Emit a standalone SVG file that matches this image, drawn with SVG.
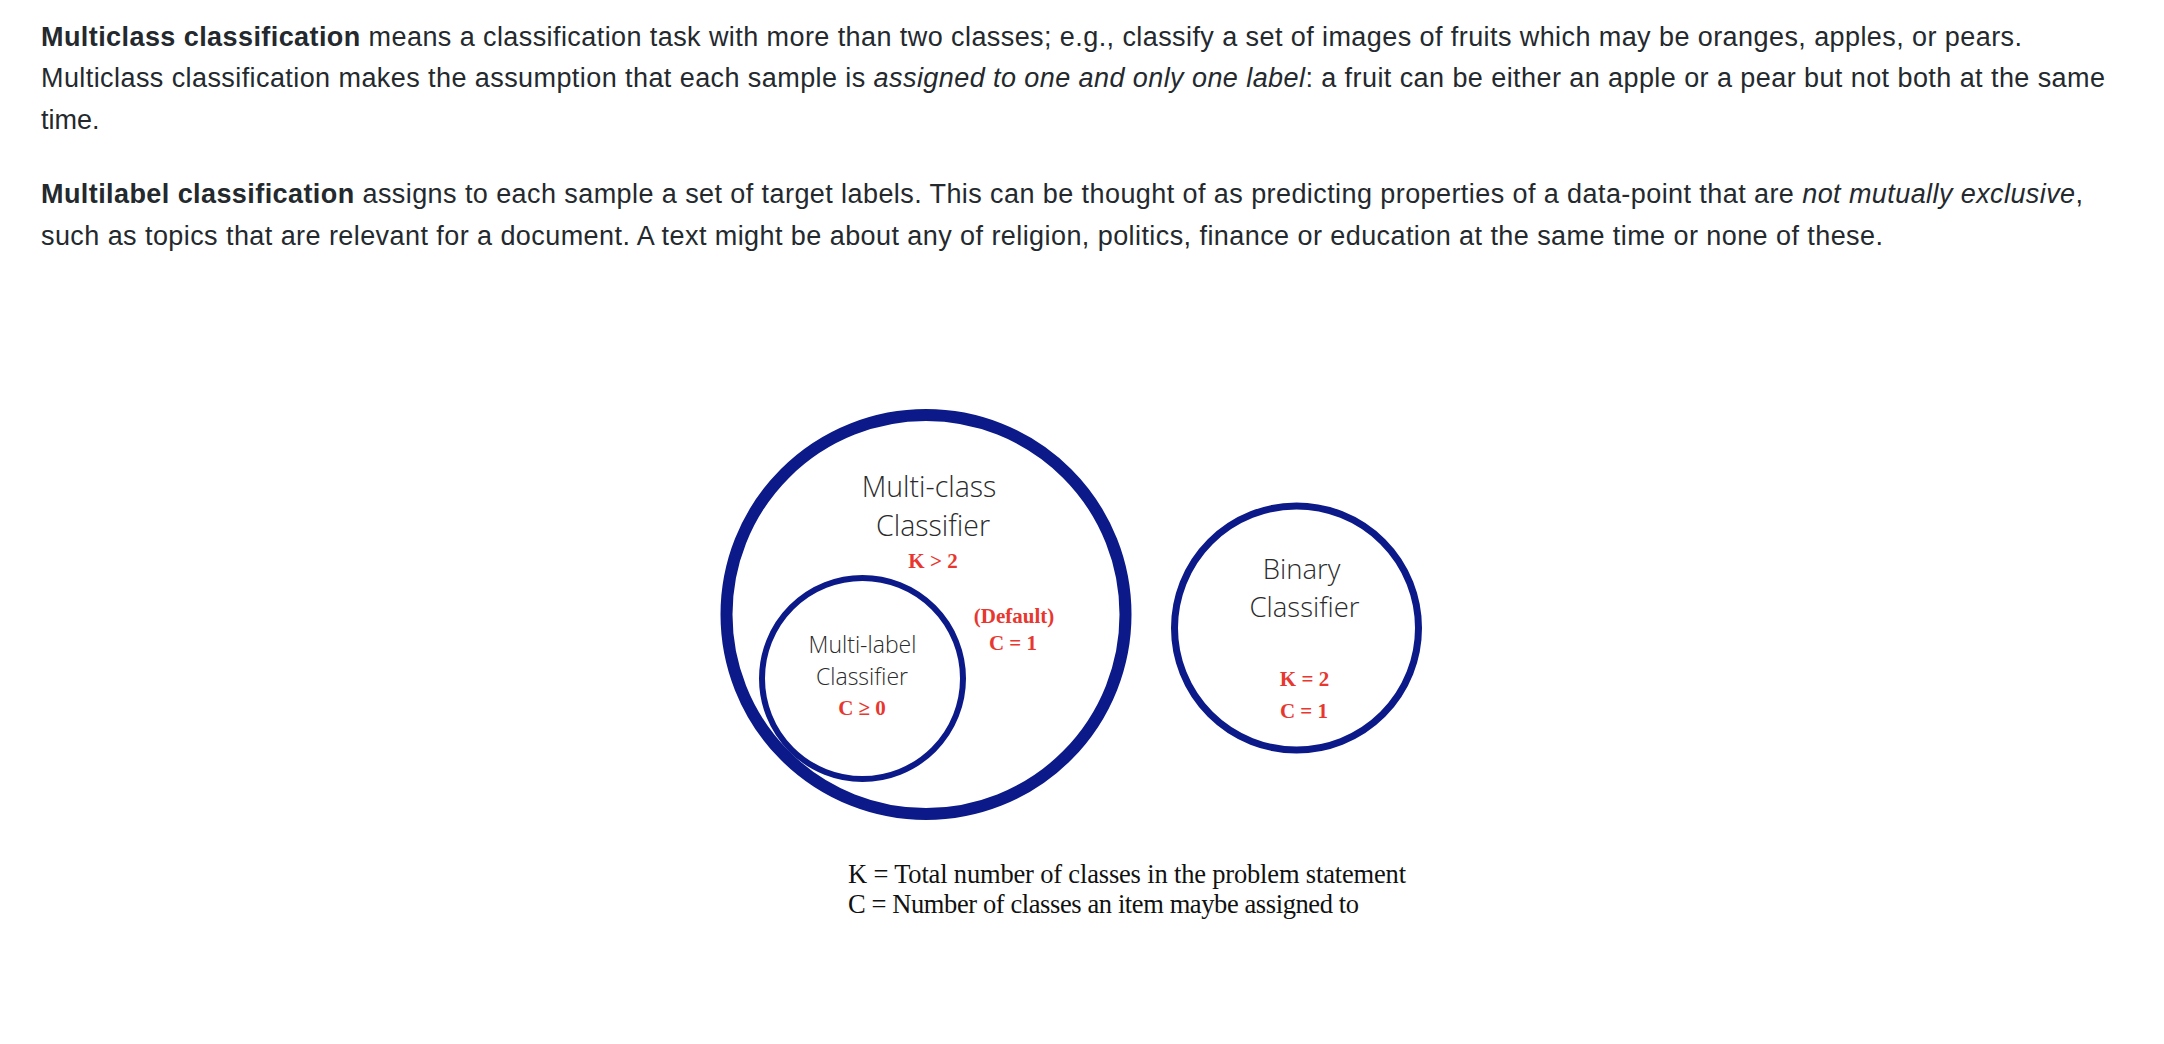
<svg xmlns="http://www.w3.org/2000/svg" width="2164" height="1044" viewBox="0 0 2164 1044">
<style>
.p{font-family:"Liberation Sans",Arial,Helvetica,sans-serif;font-size:27px;fill:#24292e}
.b{font-weight:bold}
.i{font-style:italic}
.ring{fill:none;stroke:#0b1a88}
.lbl{font-family:"Open Sans","Noto Sans",sans-serif;font-weight:300;fill:#2b2b2b;text-anchor:middle}
.red{font-family:"Liberation Serif","DejaVu Serif",serif;font-weight:bold;fill:#e8372f;text-anchor:middle;font-size:21px}
.leg{font-family:"Liberation Serif","DejaVu Serif",serif;font-size:26.5px;fill:#111}
</style>
<rect width="2164" height="1044" fill="#fff"/>
<g id="text">
<text class="p" x="41" y="46" textLength="1981"><tspan class="b">Multiclass classification</tspan> means a classification task with more than two classes; e.g., classify a set of images of fruits which may be oranges, apples, or pears.</text>
<text class="p" x="41" y="87" textLength="2064">Multiclass classification makes the assumption that each sample is <tspan class="i">assigned to one and only one label</tspan>: a fruit can be either an apple or a pear but not both at the same</text>
<text class="p" x="41" y="129">time.</text>
<text class="p" x="41" y="203" textLength="2042"><tspan class="b">Multilabel classification</tspan> assigns to each sample a set of target labels. This can be thought of as predicting properties of a data-point that are <tspan class="i">not mutually exclusive</tspan>,</text>
<text class="p" x="41" y="245" textLength="1842">such as topics that are relevant for a document. A text might be about any of religion, politics, finance or education at the same time or none of these.</text>
</g>
<g id="multiclass">
<circle class="ring" cx="926" cy="614.5" r="199.5" stroke-width="12"/>
<text class="lbl" x="929" y="497" font-size="28.5">Multi-class</text>
<text class="lbl" x="933" y="536" font-size="28.5">Classifier</text>
<text class="red" x="933" y="568">K &gt; 2</text>
<text class="red" x="1014" y="623">(Default)</text>
<text class="red" x="1013" y="650">C = 1</text>
</g>
<g id="multilabel">
<circle class="ring" cx="862.5" cy="678.5" r="100.5" stroke-width="6"/>
<text class="lbl" x="862.5" y="653" font-size="23">Multi-label</text>
<text class="lbl" x="862" y="685" font-size="23">Classifier</text>
<text class="red" x="862" y="715">C ≥ 0</text>
</g>
<g id="binary">
<circle class="ring" cx="1296.5" cy="628" r="122" stroke-width="7"/>
<text class="lbl" x="1301.5" y="579" font-size="27.5">Binary</text>
<text class="lbl" x="1304.5" y="617" font-size="27.5">Classifier</text>
<text class="red" x="1304.5" y="686">K = 2</text>
<text class="red" x="1304" y="718">C = 1</text>
</g>
<g id="connectors"/>
<g id="legend">
<text class="leg" x="848" y="883" textLength="558">K = Total number of classes in the problem statement</text>
<text class="leg" x="848" y="913" textLength="511">C = Number of classes an item maybe assigned to</text>
</g>
</svg>
